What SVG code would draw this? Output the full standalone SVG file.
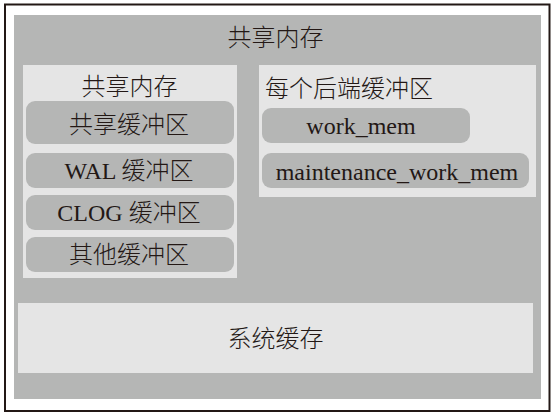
<svg xmlns="http://www.w3.org/2000/svg" width="555" height="417" viewBox="0 0 555 417">
  <style>
    .dark { fill: #b5b6b5; }
    .light { fill: #e5e5e5; }
    .t { font-family: "Liberation Serif", "Noto Sans CJK SC", serif; font-size: 24px; font-weight: 300; fill: #231815; }
    .c { text-anchor: middle; }
  </style>
  <rect x="0" y="0" width="555" height="417" fill="#ffffff"/>
  <rect x="5" y="4.5" width="544.5" height="406.5" fill="none" stroke="#231815" stroke-width="2"/>
  <g id="shared-memory">
    <rect class="dark" x="14" y="15" width="527" height="384"/>
    <text class="t c" x="275.5" y="46">共享内存</text>
  </g>
  <g id="shared-memory-inner">
    <rect class="light" x="23" y="65" width="214" height="213"/>
    <text class="t c" x="129.5" y="95">共享内存</text>
  </g>
  <g id="shared-buffers">
    <rect class="dark" x="26" y="101" width="208" height="43" rx="9"/>
    <text class="t c" x="129" y="133">共享缓冲区</text>
  </g>
  <g id="wal-buffers">
    <rect class="dark" x="26" y="153" width="208" height="35" rx="9"/>
    <text class="t c" x="129" y="179">WAL 缓冲区</text>
  </g>
  <g id="clog-buffers">
    <rect class="dark" x="26" y="195" width="208" height="35" rx="9"/>
    <text class="t c" x="129" y="221">CLOG 缓冲区</text>
  </g>
  <g id="other-buffers">
    <rect class="dark" x="26" y="237" width="208" height="35" rx="9"/>
    <text class="t c" x="129" y="263">其他缓冲区</text>
  </g>
  <g id="per-backend">
    <rect class="light" x="259" y="65" width="277" height="132"/>
    <text class="t" x="265" y="97">每个后端缓冲区</text>
  </g>
  <g id="work-mem">
    <rect class="dark" x="262" y="108" width="208" height="35" rx="9"/>
    <text class="t c" x="361" y="134">work_mem</text>
  </g>
  <g id="maintenance-work-mem">
    <rect class="dark" x="262" y="153" width="267" height="35" rx="9"/>
    <text class="t c" x="397" y="180">maintenance_work_mem</text>
  </g>
  <g id="system-cache">
    <rect class="light" x="18" y="303" width="515" height="70"/>
    <text class="t c" x="275.5" y="347">系统缓存</text>
  </g>
  <g id="connectors"/>
</svg>
